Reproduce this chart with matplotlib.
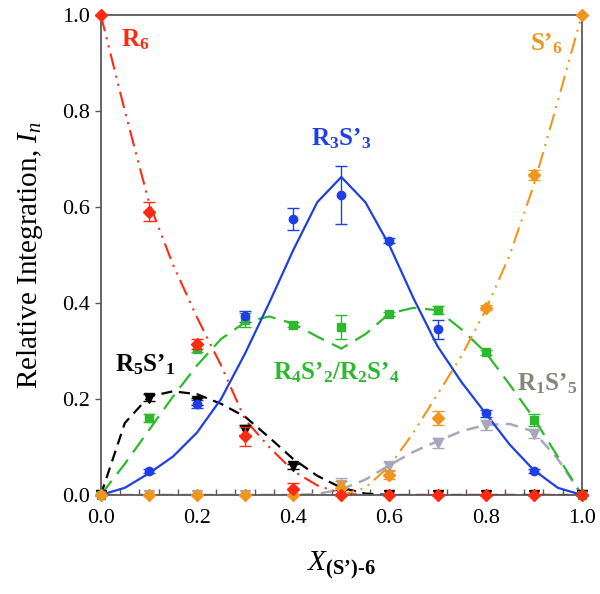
import matplotlib
matplotlib.use("Agg")
import matplotlib.pyplot as plt
from matplotlib.ticker import MultipleLocator

plt.rcParams['font.family'] = ['Liberation Serif', 'DejaVu Serif']
plt.rcParams['mathtext.fontset'] = 'custom'
plt.rcParams['mathtext.rm'] = 'Liberation Serif'
plt.rcParams['mathtext.it'] = 'Liberation Serif:italic'
plt.rcParams['mathtext.bf'] = 'Liberation Serif:bold'

# ---- measured data (x = 0.0 ... 1.0 step 0.1) ----
x_data = [0.0, 0.1, 0.2, 0.3, 0.4, 0.5, 0.6, 0.7, 0.8, 0.9, 1.0]
r6 = [1.0, 0.59, 0.315, 0.122, 0.012, 0.0, 0.0, 0.0, 0.0, 0.0, 0.0]
r6_err = [0, 0.02, 0.01, 0.02, 0.012, 0, 0, 0, 0, 0, 0]
r3s3 = [0.0, 0.05, 0.19, 0.372, 0.575, 0.625, 0.53, 0.345, 0.17, 0.05, 0.0]
r3s3_err = [0, 0.005, 0.008, 0.012, 0.022, 0.06, 0.005, 0.02, 0.008, 0.005, 0]
r4s2 = [0.0, 0.16, 0.305, 0.365, 0.355, 0.35, 0.377, 0.385, 0.297, 0.156, 0.0]
r4s2_err = [0, 0.008, 0.008, 0.015, 0.005, 0.025, 0.005, 0.008, 0.005, 0.012, 0]
r5s1 = [0.0, 0.203, 0.195, 0.135, 0.06, 0.005, 0.0, 0.0, 0.0, 0.0, 0.0]
r5s1_err = [0, 0.008, 0.008, 0.01, 0.005, 0.005, 0, 0, 0, 0, 0]
r1s5 = [0.0, 0.0, 0.0, 0.0, 0.0, 0.02, 0.06, 0.108, 0.146, 0.128, 0.0]
r1s5_err = [0, 0, 0, 0, 0, 0.015, 0.008, 0.01, 0.01, 0.01, 0]
s6 = [0.0, 0.0, 0.0, 0.0, 0.0, 0.015, 0.042, 0.16, 0.39, 0.667, 1.0]
s6_err = [0, 0, 0, 0, 0, 0.015, 0.008, 0.015, 0.005, 0.01, 0]

# ---- fitted curves (read at x step 0.05) ----
x_fit = [0.0, 0.05, 0.1, 0.15, 0.2, 0.25, 0.3, 0.35, 0.4, 0.45, 0.5,
         0.55, 0.6, 0.65, 0.7, 0.75, 0.8, 0.85, 0.9, 0.95, 1.0]
r6_fit = [1.0, 0.80, 0.61, 0.48, 0.37, 0.27, 0.157, 0.10, 0.05, 0.02, 0.003,
          0, 0, 0, 0, 0, 0, 0, 0, 0, 0]
s6_fit = [0, 0, 0, 0, 0, 0, 0, 0, 0, 0, 0.0,
          0.015, 0.06, 0.13, 0.21, 0.29, 0.385, 0.5, 0.645, 0.82, 1.0]
r3s3_fit = [0.0, 0.015, 0.045, 0.08, 0.13, 0.2, 0.295, 0.40, 0.51, 0.61, 0.6625,
            0.61, 0.52, 0.41, 0.31, 0.235, 0.17, 0.105, 0.052, 0.015, 0.0]
r4s2_fit = [0.0, 0.065, 0.135, 0.205, 0.27, 0.325, 0.36, 0.372, 0.357, 0.33, 0.305,
            0.335, 0.378, 0.39, 0.385, 0.345, 0.297, 0.23, 0.16, 0.08, 0.0]
r5s1_fit = [0.0, 0.15, 0.205, 0.216, 0.21, 0.19, 0.163, 0.12, 0.075, 0.04, 0.015,
            0.003, 0, 0, 0, 0, 0, 0, 0, 0, 0]
r1s5_fit = [0, 0, 0, 0, 0, 0, 0, 0, 0, 0.002, 0.012,
            0.032, 0.062, 0.09, 0.112, 0.133, 0.146, 0.148, 0.132, 0.075, 0.0]

x_ticks = [0.0, 0.2, 0.4, 0.6, 0.8, 1.0]
y_ticks = [0.0, 0.2, 0.4, 0.6, 0.8, 1.0]

RED = '#ff2a12'
BLUE = '#1f3fe6'
GREEN = '#2db92d'
ORANGE = '#f0961e'
BLACK = '#000000'
GRAYL = '#a8a8bc'
GRAYT = '#85857a'

fig = plt.figure(figsize=(6.0, 5.94), dpi=100)
ax = fig.add_axes([0.168, 0.1667, 0.8017, 0.808])

ddot = (8, 3, 1, 3, 1, 3)
ax.plot(x_fit, r1s5_fit, color=GRAYL, lw=1.8, dashes=(5, 3), zorder=2)
ax.plot(x_fit, r5s1_fit, color=BLACK, lw=1.6, dashes=(5, 3), zorder=2)
ax.plot(x_fit, r4s2_fit, color=GREEN, lw=1.6, dashes=(8, 4), zorder=2)
ax.plot(x_fit, r3s3_fit, color=BLUE, lw=1.6, zorder=2)
ax.plot(x_fit, r6_fit, color=RED, lw=1.5, dashes=ddot, zorder=2)
ax.plot(x_fit, s6_fit, color=ORANGE, lw=1.5, dashes=ddot, zorder=2)

ekw = dict(capsize=4, elinewidth=1.0, capthick=1.0, linestyle='none')
series = [
    (r1s5, r1s5_err, 'v', GRAYL, 6.5, 3),
    (r5s1, r5s1_err, 'v', BLACK, 6.5, 3),
    (r4s2, r4s2_err, 's', GREEN, 5.5, 3),
    (r3s3, r3s3_err, 'o', BLUE, 6.0, 3),
    (s6, s6_err, 'D', ORANGE, 6.5, 4),
    (r6, r6_err, 'D', RED, 6.5, 4),
]
for yv, ye, mk, col, ms, zo in series:
    cont = ax.errorbar(x_data, yv, yerr=ye, fmt=mk, color=col, ms=ms,
                       zorder=zo, **ekw)
    for art in cont.get_children():
        art.set_clip_on(False)

ax.set_xlim(0, 1)
ax.set_ylim(0, 1)
ax.set_xticks(x_ticks)
ax.set_yticks(y_ticks)
ax.xaxis.set_minor_locator(MultipleLocator(0.04))
ax.tick_params(axis='x', which='major', direction='in', length=0, pad=10,
               labelsize=16)
ax.tick_params(axis='x', which='minor', direction='in', length=4, width=1,
               color='#595959')
ax.tick_params(axis='y', which='major', direction='out', length=4, width=1,
               color='#595959', pad=4, labelsize=16)
for s in ax.spines.values():
    s.set_color('#595959')
    s.set_linewidth(1.3)

ax.set_xlabel("$X_{\\mathbf{(S\u2019)}\\text{-}\\mathbf{6}}$", fontsize=21, labelpad=16)
ax.set_ylabel(r"Relative Integration, $I_n$", fontsize=21, labelpad=12)

fs = 18
ax.text(0.043, 0.935, "$\\mathbf{R_6}$", color=RED, fontsize=fs)
ax.text(0.892, 0.927, "$\\mathbf{S\u2019_6}$", color=ORANGE, fontsize=fs)
ax.text(0.50, 0.729, "$\\mathbf{R_3S\u2019_3}$", color=BLUE, fontsize=fs, ha='center')
ax.text(0.029, 0.257, "$\\mathbf{R_5S\u2019_1}$", color=BLACK, fontsize=fs)
ax.text(0.358, 0.241, "$\\mathbf{R_4S\u2019_2/R_2S\u2019_4}$", color=GREEN, fontsize=fs)
ax.text(0.866, 0.217, "$\\mathbf{R_1S\u2019_5}$", color=GRAYT, fontsize=fs)

fig.savefig("out.png", dpi=100)
